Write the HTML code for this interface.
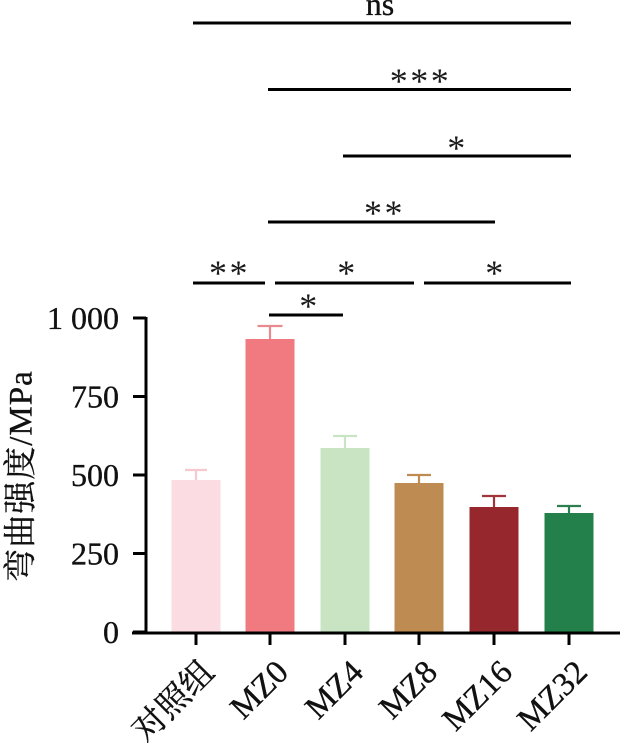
<!DOCTYPE html>
<html><head><meta charset="utf-8"><style>
html,body{margin:0;padding:0;background:#fff;}
svg{display:block;}
.l{font-family:"Liberation Serif","Times New Roman",Times,serif;fill:#111;stroke:#111;stroke-width:0.35;}
.c{font-family:"Liberation Serif","Noto Serif CJK SC","Noto Sans CJK SC",serif;fill:#111;stroke:#111;stroke-width:0.35;}
.a{font-family:"Liberation Serif","Times New Roman",Times,serif;fill:#1a1a1a;}
</style></head><body>
<svg width="622" height="743" viewBox="0 0 622 743" xmlns="http://www.w3.org/2000/svg">
<!-- bars -->
<rect x="171.5" y="480" width="49" height="152" fill="#FADCE2"/>
<rect x="245.5" y="339" width="49" height="293" fill="#F07A80"/>
<rect x="320.5" y="448" width="49" height="184" fill="#C8E4C3"/>
<rect x="394.5" y="483" width="49" height="149" fill="#BE8C52"/>
<rect x="469.5" y="507" width="49" height="125" fill="#96282D"/>
<rect x="544.5" y="513" width="49" height="119" fill="#23804A"/>
<!-- error bars -->
<g stroke-width="2.2" fill="none">
<path d="M196 480V470M185 470H207" stroke="#F6C9D0"/>
<path d="M270 339V326M257.5 326H282.5" stroke="#E98A90"/>
<path d="M345 448V436M333 436H357" stroke="#C8E4C3"/>
<path d="M419 483V475M407 475H431" stroke="#BE8C52"/>
<path d="M494 507V496M482 496H506" stroke="#A0343A"/>
<path d="M569 513V506M557 506H581" stroke="#2C8050"/>
</g>
<!-- axes -->
<g stroke="#000" stroke-width="3" fill="none">
<path d="M146 317V634.5"/>
<path d="M132 633H620"/>
<path d="M133 318H146M133 396.5H146M133 475H146M133 553.5H146M133 632H146"/>
<path d="M196 633V645M270 633V645M345 633V645M419 633V645M494 633V645M569 633V645"/>
</g>
<!-- y tick labels -->
<g font-size="32" text-anchor="end">
<text class="l" x="119" y="329">1 000</text>
<text class="l" x="119" y="407.5">750</text>
<text class="l" x="119" y="486">500</text>
<text class="l" x="119" y="564.5">250</text>
<text class="l" x="119" y="643">0</text>
</g>
<!-- y title -->
<text class="c" transform="translate(31.5,476) rotate(-90)" font-size="33" text-anchor="middle" letter-spacing="1">弯曲强度/MPa</text>
<!-- x labels -->
<g font-size="33" text-anchor="end">
<text class="c" transform="translate(216,674) rotate(-45)">对照组</text>
<text class="l" transform="translate(290,674) rotate(-45)">MZ0</text>
<text class="l" transform="translate(365,674) rotate(-45)">MZ4</text>
<text class="l" transform="translate(439,674) rotate(-45)">MZ8</text>
<text class="l" transform="translate(514,674) rotate(-45)">MZ16</text>
<text class="l" transform="translate(589,674) rotate(-45)">MZ32</text>
</g>
<!-- significance lines -->
<g stroke="#000" stroke-width="3" fill="none">
<path d="M193 23H571"/>
<path d="M268 89.5H571"/>
<path d="M343 156H571"/>
<path d="M268 222H495"/>
<path d="M193 283H265"/>
<path d="M275 283H414"/>
<path d="M424 283H571"/>
<path d="M269 315H343"/>
</g>
<text class="l" x="380" y="15" font-size="32" text-anchor="middle">ns</text>
<g font-size="36" text-anchor="middle" letter-spacing="2.5">
<text class="a" x="420.5" y="93">***</text>
<text class="a" x="457.5" y="160">*</text>
<text class="a" x="384.5" y="225">**</text>
<text class="a" x="229.5" y="285">**</text>
<text class="a" x="347.5" y="285">*</text>
<text class="a" x="495.5" y="285">*</text>
<text class="a" x="309.5" y="318">*</text>
</g>
</svg>
</body></html>
